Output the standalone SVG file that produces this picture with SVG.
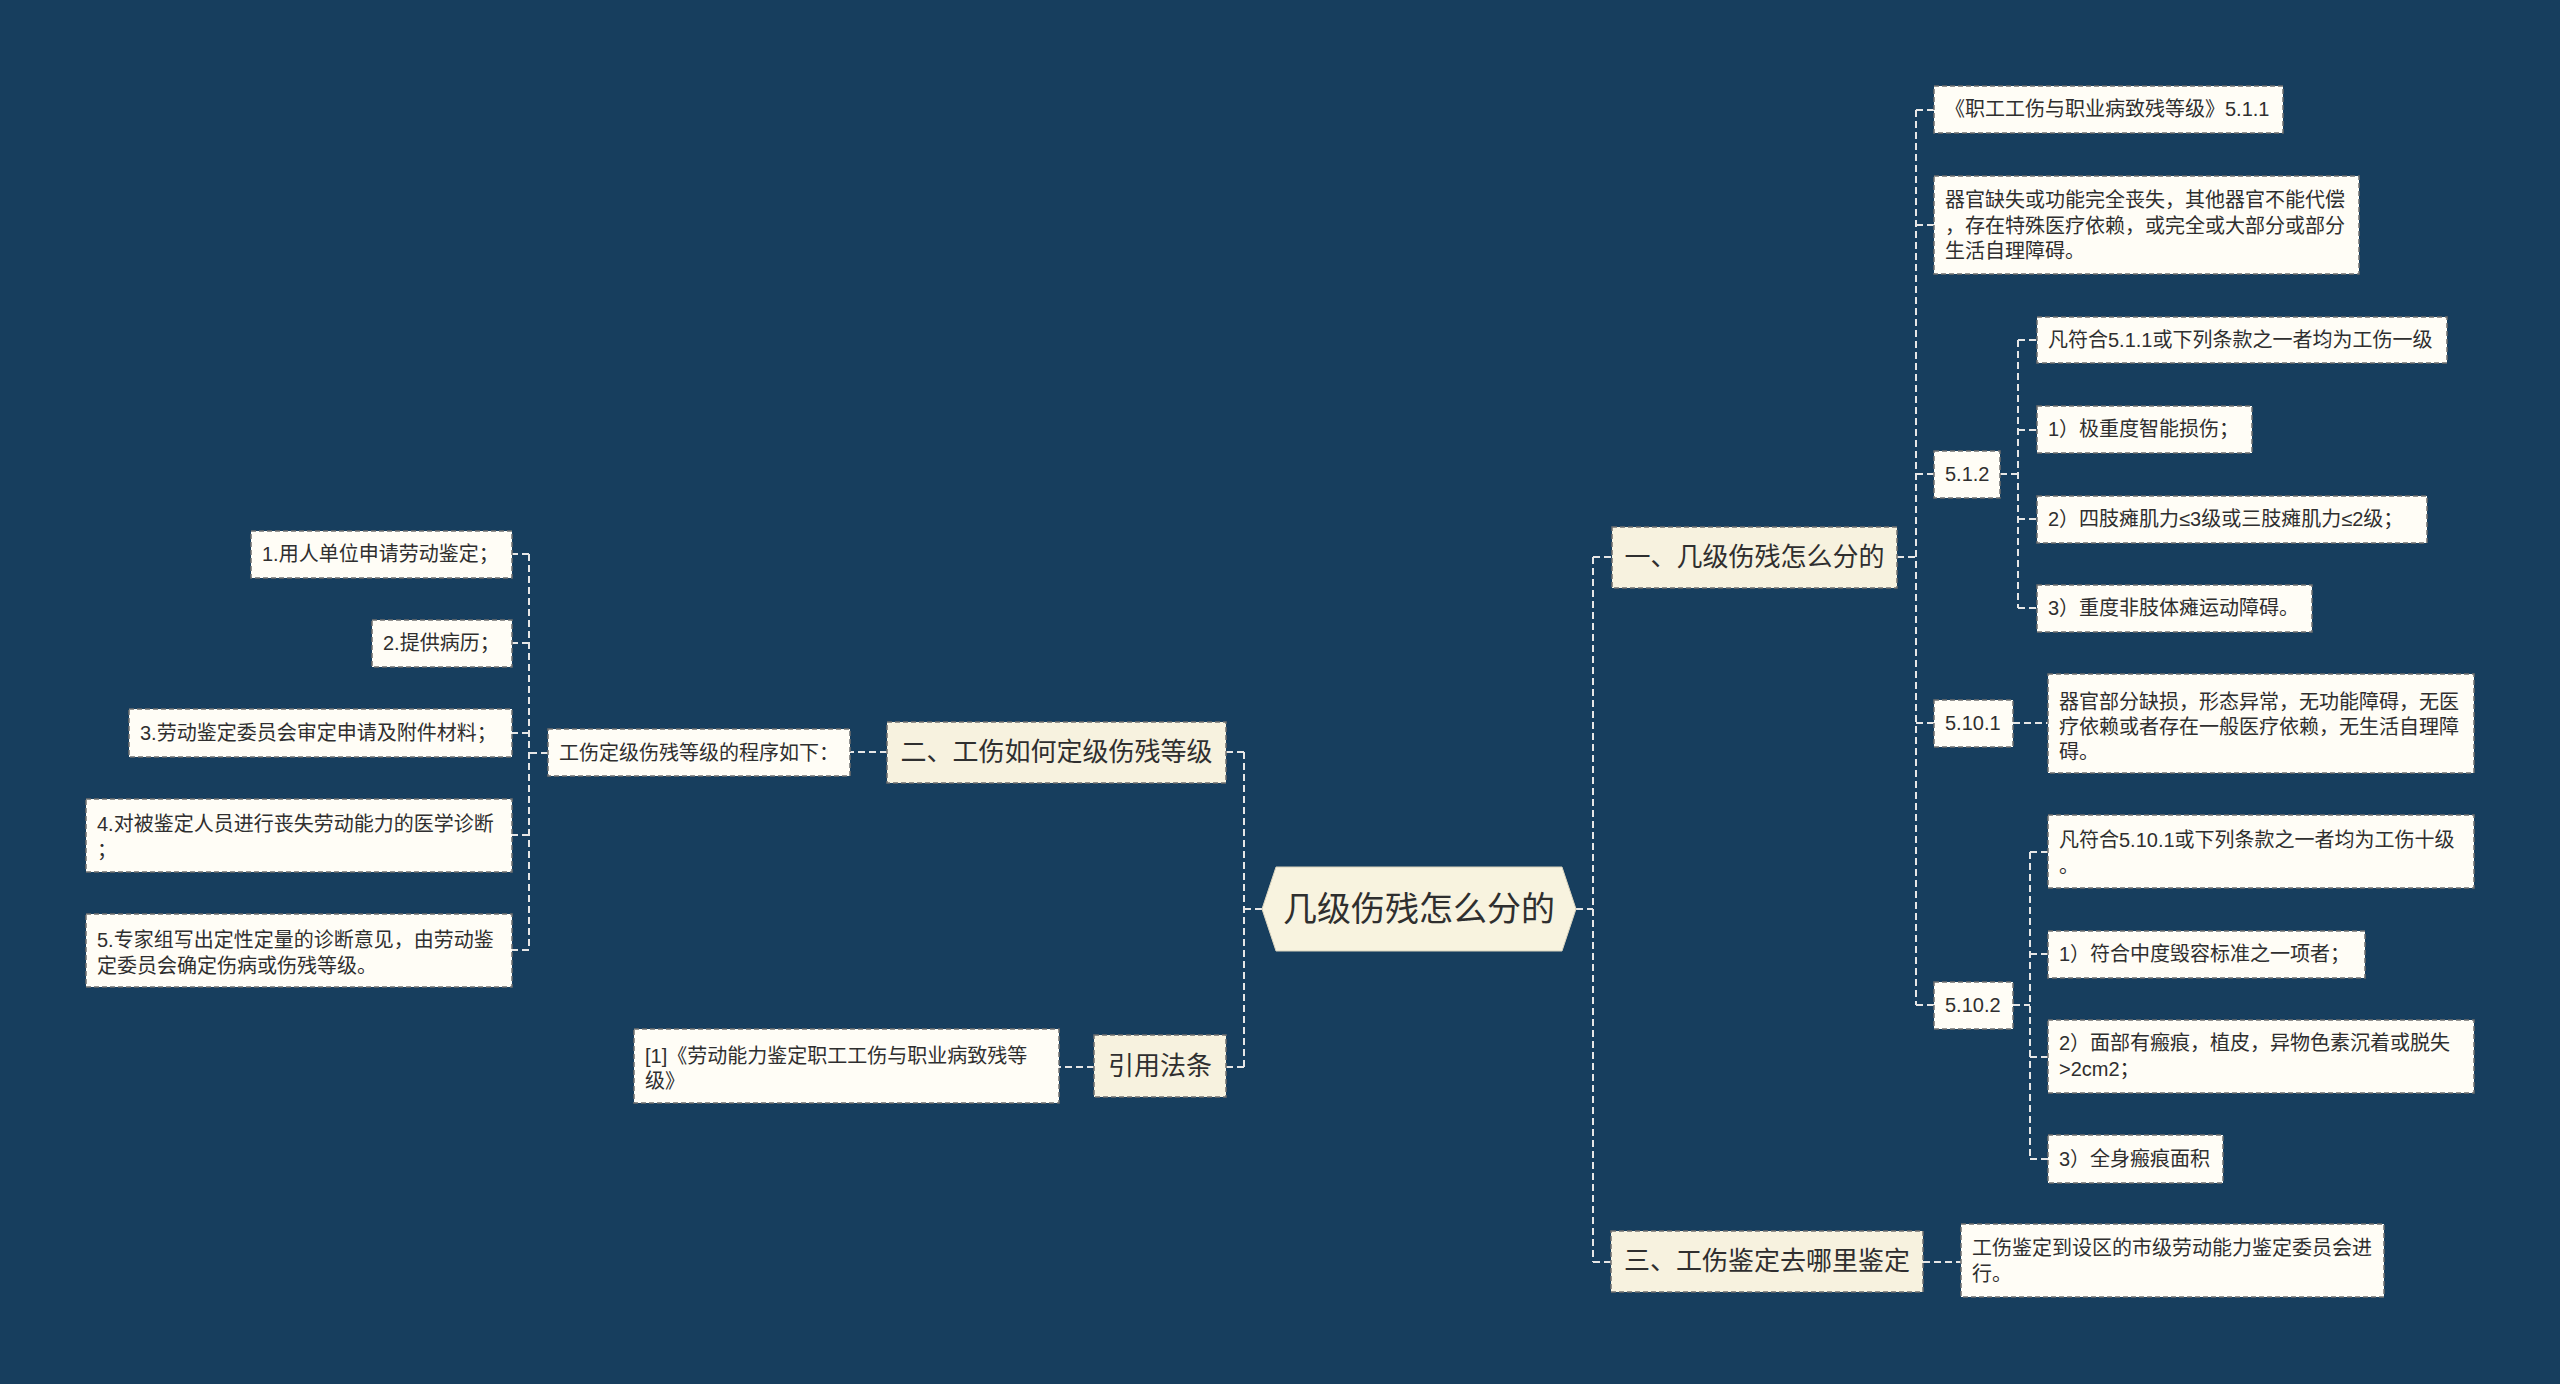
<svg xmlns="http://www.w3.org/2000/svg" width="2560" height="1384" viewBox="0 0 2560 1384">
<style>
.bg{fill:#173e5e}
.conn{fill:none;stroke:#e6e6e6;stroke-width:2;stroke-dasharray:7 4}
.l1{fill:#f7f2df;stroke:#6f6f6f;stroke-width:1.5;stroke-dasharray:5 3}
.leaf{fill:#fffdf6;stroke:#6f6f6f;stroke-width:1.5;stroke-dasharray:5 3}
.root{fill:#f8f3df;stroke:#d8d2bd;stroke-width:1}
text{font-family:"Liberation Sans","Noto Sans CJK SC","Microsoft YaHei",sans-serif;fill:#2f2f2f}
.t0{font-size:34px;text-anchor:middle}
.t1{font-size:26px;text-anchor:middle}
.t2{font-size:20px}
</style>
<rect class="bg" x="0" y="0" width="2560" height="1384"/>
<g id="connectors">
<path class="conn" d="M1576,909 H1593 M1593,557 V1262 M1593,557 H1612 M1593,1262 H1611"/>
<path class="conn" d="M1897,557 H1916 M1916,110 V1005 M1916,110 H1934 M1916,225 H1934 M1916,474 H1934 M1916,723 H1934 M1916,1005 H1934"/>
<path class="conn" d="M2000,474 H2018 M2018,340 V608 M2018,340 H2037 M2018,430 H2037 M2018,519 H2037 M2018,608 H2037"/>
<path class="conn" d="M2013,723 H2048"/>
<path class="conn" d="M2013,1005 H2030 M2030,852 V1159 M2030,852 H2048 M2030,954 H2048 M2030,1057 H2048 M2030,1159 H2048"/>
<path class="conn" d="M1923,1262 H1961"/>
<path class="conn" d="M1262,909 H1244 M1244,752 V1067 M1244,752 H1226 M1244,1067 H1226"/>
<path class="conn" d="M887,752 H850"/>
<path class="conn" d="M548,753 H529 M529,554 V950 M529,554 H512 M529,643 H512 M529,733 H512 M529,835 H512 M529,950 H512"/>
<path class="conn" d="M1094,1067 H1059"/>
</g>
<g id="root">
<polygon class="root" points="1262,909 1276,867 1562,867 1576,909 1562,951 1276,951"/>
<text class="t0" x="1419" y="921">几级伤残怎么分的</text>
</g>
<g id="n1">
<rect class="l1" x="1612" y="527" width="285" height="61"/>
<text class="t1" x="1754.5" y="566">一、几级伤残怎么分的</text>
</g>
<g id="n2">
<rect class="l1" x="887" y="722" width="339" height="61"/>
<text class="t1" x="1056.5" y="761">二、工伤如何定级伤残等级</text>
</g>
<g id="n3">
<rect class="l1" x="1611" y="1231" width="312" height="61"/>
<text class="t1" x="1767" y="1270">三、工伤鉴定去哪里鉴定</text>
</g>
<g id="n4">
<rect class="l1" x="1094" y="1035" width="132" height="62"/>
<text class="t1" x="1160" y="1075">引用法条</text>
</g>
<g id="r1">
<rect class="leaf" x="1934" y="86" width="349" height="47"/>
<text class="t2" x="1945" y="116">《职工工伤与职业病致残等级》5.1.1</text>
</g>
<g id="r2">
<rect class="leaf" x="1934" y="176" width="425" height="98"/>
<text class="t2" x="1945" y="207"><tspan x="1945" y="207">器官缺失或功能完全丧失，其他器官不能代偿</tspan><tspan x="1945" y="232.5">，存在特殊医疗依赖，或完全或大部分或部分</tspan><tspan x="1945" y="258">生活自理障碍。</tspan></text>
</g>
<g id="r3">
<rect class="leaf" x="1934" y="451" width="66" height="47"/>
<text class="t2" x="1945" y="481">5.1.2</text>
</g>
<g id="r3a">
<rect class="leaf" x="2037" y="317" width="410" height="46"/>
<text class="t2" x="2048" y="347">凡符合5.1.1或下列条款之一者均为工伤一级</text>
</g>
<g id="r3b">
<rect class="leaf" x="2037" y="406" width="215" height="47"/>
<text class="t2" x="2048" y="436">1）极重度智能损伤；</text>
</g>
<g id="r3c">
<rect class="leaf" x="2037" y="496" width="390" height="47"/>
<text class="t2" x="2048" y="526">2）四肢瘫肌力≤3级或三肢瘫肌力≤2级；</text>
</g>
<g id="r3d">
<rect class="leaf" x="2037" y="585" width="275" height="47"/>
<text class="t2" x="2048" y="615">3）重度非肢体瘫运动障碍。</text>
</g>
<g id="r4">
<rect class="leaf" x="1934" y="700" width="79" height="47"/>
<text class="t2" x="1945" y="730">5.10.1</text>
</g>
<g id="r4a">
<rect class="leaf" x="2048" y="674" width="426" height="99"/>
<text class="t2" x="2059" y="709"><tspan x="2059" y="709">器官部分缺损，形态异常，无功能障碍，无医</tspan><tspan x="2059" y="734">疗依赖或者存在一般医疗依赖，无生活自理障</tspan><tspan x="2059" y="759">碍。</tspan></text>
</g>
<g id="r5">
<rect class="leaf" x="1934" y="982" width="79" height="47"/>
<text class="t2" x="1945" y="1012">5.10.2</text>
</g>
<g id="r5a">
<rect class="leaf" x="2048" y="815" width="426" height="73"/>
<text class="t2" x="2059" y="847"><tspan x="2059" y="847">凡符合5.10.1或下列条款之一者均为工伤十级</tspan><tspan x="2059" y="873">。</tspan></text>
</g>
<g id="r5b">
<rect class="leaf" x="2048" y="931" width="317" height="47"/>
<text class="t2" x="2059" y="961">1）符合中度毁容标准之一项者；</text>
</g>
<g id="r5c">
<rect class="leaf" x="2048" y="1020" width="426" height="73"/>
<text class="t2" x="2059" y="1050"><tspan x="2059" y="1050">2）面部有瘢痕，植皮，异物色素沉着或脱失</tspan><tspan x="2059" y="1076">&gt;2cm2；</tspan></text>
</g>
<g id="r5d">
<rect class="leaf" x="2048" y="1135" width="175" height="48"/>
<text class="t2" x="2059" y="1166">3）全身瘢痕面积</text>
</g>
<g id="r6">
<rect class="leaf" x="1961" y="1224" width="423" height="73"/>
<text class="t2" x="1972" y="1255"><tspan x="1972" y="1255">工伤鉴定到设区的市级劳动能力鉴定委员会进</tspan><tspan x="1972" y="1281">行。</tspan></text>
</g>
<g id="l0">
<rect class="leaf" x="548" y="729" width="302" height="47"/>
<text class="t2" x="559" y="760">工伤定级伤残等级的程序如下：</text>
</g>
<g id="l1">
<rect class="leaf" x="251" y="531" width="261" height="47"/>
<text class="t2" x="262" y="561">1.用人单位申请劳动鉴定；</text>
</g>
<g id="l2">
<rect class="leaf" x="372" y="620" width="140" height="47"/>
<text class="t2" x="383" y="650">2.提供病历；</text>
</g>
<g id="l3">
<rect class="leaf" x="129" y="709" width="383" height="48"/>
<text class="t2" x="140" y="740">3.劳动鉴定委员会审定申请及附件材料；</text>
</g>
<g id="l4">
<rect class="leaf" x="86" y="799" width="426" height="73"/>
<text class="t2" x="97" y="831"><tspan x="97" y="831">4.对被鉴定人员进行丧失劳动能力的医学诊断</tspan><tspan x="97" y="857">；</tspan></text>
</g>
<g id="l5">
<rect class="leaf" x="86" y="914" width="426" height="73"/>
<text class="t2" x="97" y="947"><tspan x="97" y="947">5.专家组写出定性定量的诊断意见，由劳动鉴</tspan><tspan x="97" y="973">定委员会确定伤病或伤残等级。</tspan></text>
</g>
<g id="l6">
<rect class="leaf" x="634" y="1029" width="425" height="74"/>
<text class="t2" x="645" y="1063"><tspan x="645" y="1063">[1]《劳动能力鉴定职工工伤与职业病致残等</tspan><tspan x="645" y="1088">级》</tspan></text>
</g>
</svg>
